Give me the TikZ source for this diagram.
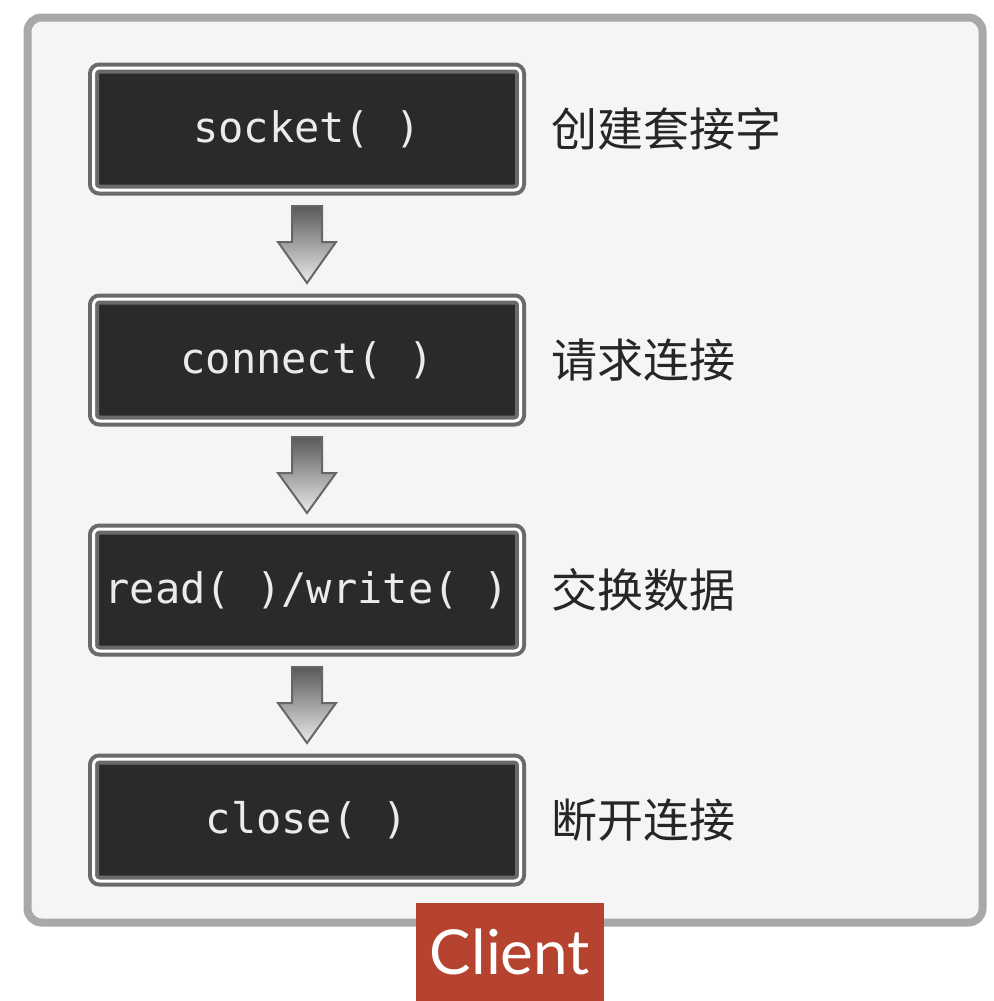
\documentclass[tikz,border=0pt]{standalone}
\usepackage{fontspec}
\newfontfamily\cjk{Noto Sans CJK SC}
\newfontfamily\monof{DejaVu Sans Mono}
\newfontfamily\latof{Lato}
\usetikzlibrary{shadings,calc}
\definecolor{framegray}{HTML}{A8A8A8}
\definecolor{bgpanel}{HTML}{F5F5F5}
\definecolor{boxdark}{HTML}{2A2A2A}
\definecolor{boxedge}{HTML}{6A6A6A}
\definecolor{clientred}{HTML}{B5432F}
\tikzset{
  fnbox/.style={draw=boxedge, line width=4pt, fill=boxdark, double=white, double distance=3pt,
    rounded corners=6pt, minimum width=427pt, minimum height=122pt, inner sep=0pt,
    text=black!8, font=\monof\fontsize{42}{48}\selectfont},
  cnlabel/.style={anchor=west, inner sep=0pt, font=\cjk\fontsize{46}{52}\selectfont, text=black!85},
  downarrow/.style={draw=black!60, line width=2pt, top color=black!65, bottom color=black!8, shading angle=0}
}
\begin{document}
\begin{tikzpicture}[x=1pt,y=-1pt]
\useasboundingbox (0,0) rectangle (993,1001);
\fill[white] (0,0) rectangle (993,1001);
\node[draw=framegray, line width=8pt, fill=bgpanel, rounded corners=14pt, minimum width=955pt, minimum height=905pt, inner sep=0pt] (panel) at (505,470) {};
\node[fnbox] (s1) at (307,129) {socket( )};
\node[fnbox] (s2) at (307,360) {connect( )};
\node[fnbox] (s3) at (307,590) {read( )/write( )};
\node[fnbox] (s4) at (307,820) {close( )};
\node[cnlabel] (l1) at (551,129) {创建套接字};
\node[cnlabel] (l2) at (551,360) {请求连接};
\node[cnlabel] (l3) at (551,590) {交换数据};
\node[cnlabel] (l4) at (551,820) {断开连接};
\foreach \a/\b in {s1/s2, s2/s3, s3/s4}{
  \path[downarrow] ($(\a.south)+(-15,14)$) -- ($(\a.south)+(15,14)$) -- ($(\a.south)+(15,50)$) -- ($(\a.south)+(29,50)$)
     -- ($(\b.north)+(0,-14)$) -- ($(\a.south)+(-29,50)$) -- ($(\a.south)+(-15,50)$) -- cycle;
}
\node[fill=clientred, minimum width=188pt, minimum height=98pt, inner sep=0pt, text=white, font=\latof\fontsize{62}{68}\selectfont] (client) at (510,952) {Client};
\end{tikzpicture}
\end{document}
